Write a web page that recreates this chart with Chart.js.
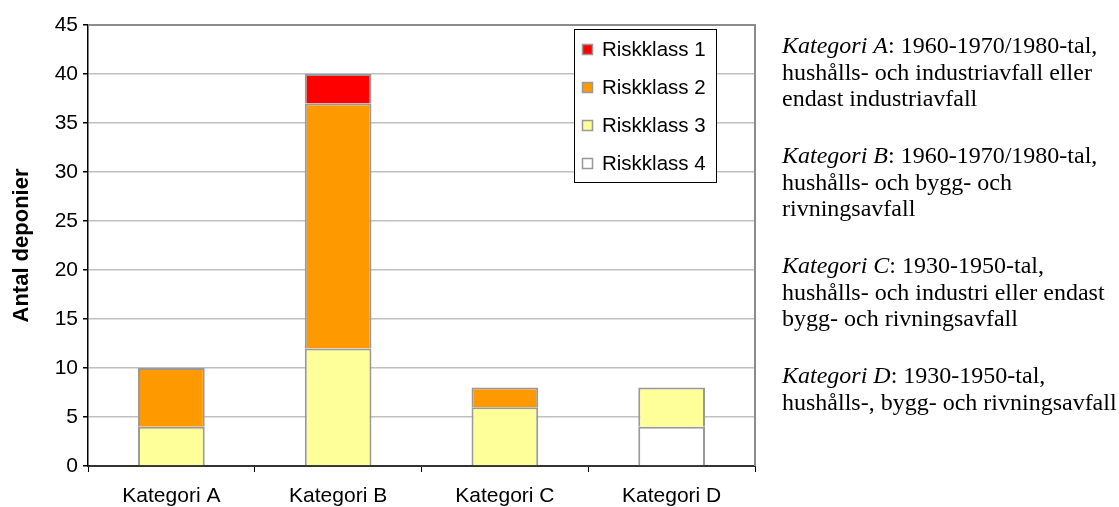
<!DOCTYPE html>
<html>
<head>
<meta charset="utf-8">
<script src="https://cdn.jsdelivr.net/npm/chart.js@4.4.1/dist/chart.umd.min.js"></script>
<style>
  html, body { margin: 0; padding: 0; background: #fff; }
  #c { display: block; }
</style>
</head>
<body>
<canvas id="c" width="1119" height="507"></canvas>
<script>
// Categories and number of landfills per risk class
const categories = ['Kategori A', 'Kategori B', 'Kategori C', 'Kategori D'];
const riskklass1 = [0, 3, 0, 0];
const riskklass2 = [6, 25, 2, 0];
const riskklass3 = [4, 12, 6, 4];
const riskklass4 = [0, 0, 0, 4];
const yTicks = [0, 5, 10, 15, 20, 25, 30, 35, 40, 45];

// Category descriptions shown beside the chart, one array entry per line
const descriptions = [
  ['Kategori A', [': 1960-1970/1980-tal,', 'hushålls- och industriavfall eller', 'endast industriavfall']],
  ['Kategori B', [': 1960-1970/1980-tal,', 'hushålls- och bygg- och', 'rivningsavfall']],
  ['Kategori C', [': 1930-1950-tal,', 'hushålls- och industri eller endast', 'bygg- och rivningsavfall']],
  ['Kategori D', [': 1930-1950-tal,', 'hushålls-, bygg- och rivningsavfall']]
];

const SANS = '"Liberation Sans", Arial, sans-serif';
const SERIF = '"Liberation Serif", "Times New Roman", serif';
const BORDER = '#999999';

// Descriptive text block to the right of the plot
const sideNotes = {
  id: 'sideNotes',
  afterDraw(chart) {
    const ctx = chart.ctx;
    const x0 = 782, firstLine = 47, lineGap = 26.4, blockGap = 110;
    ctx.save();
    ctx.fillStyle = '#000';
    ctx.textBaseline = 'middle';
    descriptions.forEach(([name, lines], b) => {
      const top = firstLine + b * blockGap;
      lines.forEach((line, i) => {
        const y = top + i * lineGap;
        let x = x0;
        if (i === 0) {
          ctx.font = 'italic 24px ' + SERIF;
          ctx.fillText(name, x, y);
          x += ctx.measureText(name).width;
        }
        ctx.font = '24px ' + SERIF;
        ctx.fillText(line, x, y);
      });
    });
    ctx.restore();
  }
};

// Boxed legend inside the plot area, top entry = highest risk class
const boxedLegend = {
  id: 'boxedLegend',
  afterDraw(chart) {
    const ctx = chart.ctx;
    const x0 = 574, y0 = 29, w = 142, h = 153;
    ctx.save();
    ctx.fillStyle = '#fff';
    ctx.fillRect(x0, y0, w, h);
    ctx.strokeStyle = '#000';
    ctx.lineWidth = 1;
    ctx.strokeRect(x0 + 0.5, y0 + 0.5, w, h);
    const items = chart.data.datasets.slice().reverse();
    ctx.font = '20.5px ' + SANS;
    ctx.textBaseline = 'middle';
    items.forEach((ds, i) => {
      const cy = 49 + i * 38;
      ctx.fillStyle = ds.backgroundColor;
      ctx.fillRect(582, cy - 5, 11, 11);
      ctx.strokeStyle = BORDER;
      ctx.lineWidth = 1.5;
      ctx.strokeRect(582.5, cy - 4.5, 10, 10);
      ctx.fillStyle = '#000';
      ctx.fillText(ds.label, 602, cy + 1);
    });
    ctx.restore();
  }
};

// Gray frame on the top and right sides of the plot area
const plotFrame = {
  id: 'plotFrame',
  afterDatasetsDraw(chart) {
    const a = chart.chartArea, ctx = chart.ctx;
    ctx.save();
    ctx.strokeStyle = '#8c8c8c';
    ctx.lineWidth = 2;
    ctx.beginPath();
    ctx.moveTo(a.left, a.top);
    ctx.lineTo(a.right, a.top);
    ctx.lineTo(a.right, a.bottom);
    ctx.stroke();
    ctx.restore();
  }
};

const common = { borderColor: BORDER, borderWidth: 2, barPercentage: 0.4, categoryPercentage: 1.0 };

new Chart(document.getElementById('c'), {
  type: 'bar',
  data: {
    labels: categories,
    datasets: [
      { label: 'Riskklass 4', data: riskklass4, backgroundColor: '#FFFFFF', ...common },
      { label: 'Riskklass 3', data: riskklass3, backgroundColor: '#FFFF99', ...common },
      { label: 'Riskklass 2', data: riskklass2, backgroundColor: '#FF9900', ...common },
      { label: 'Riskklass 1', data: riskklass1, backgroundColor: '#FF0000', ...common }
    ]
  },
  options: {
    responsive: false,
    animation: false,
    layout: { padding: { left: 0, right: 364, top: 25, bottom: 0 } },
    plugins: { legend: { display: false }, tooltip: { enabled: false } },
    scales: {
      x: {
        stacked: true,
        afterFit: s => { s.height = 41; },
        grid: { display: true, offset: true, drawOnChartArea: false, tickLength: 6, color: '#000', lineWidth: 1 },
        border: { display: true, color: '#333', width: 2 },
        ticks: { color: '#000', font: { family: SANS, size: 21 }, padding: 12 }
      },
      y: {
        stacked: true,
        min: 0, max: 45,
        afterFit: s => { s.width = 88; },
        afterBuildTicks: s => { s.ticks = yTicks.map(v => ({ value: v })); },
        grid: { color: '#c0c0c0', lineWidth: 1.5, tickLength: 5, tickColor: '#000' },
        border: { display: true, color: '#000', width: 1.5 },
        ticks: { color: '#000', font: { family: SANS, size: 21 }, padding: 5 },
        title: { display: true, text: 'Antal deponier', color: '#000',
                 font: { family: SANS, size: 22, weight: 'bold' }, padding: { top: 9 } }
      }
    }
  },
  plugins: [plotFrame, boxedLegend, sideNotes]
});
</script>
</body>
</html>
